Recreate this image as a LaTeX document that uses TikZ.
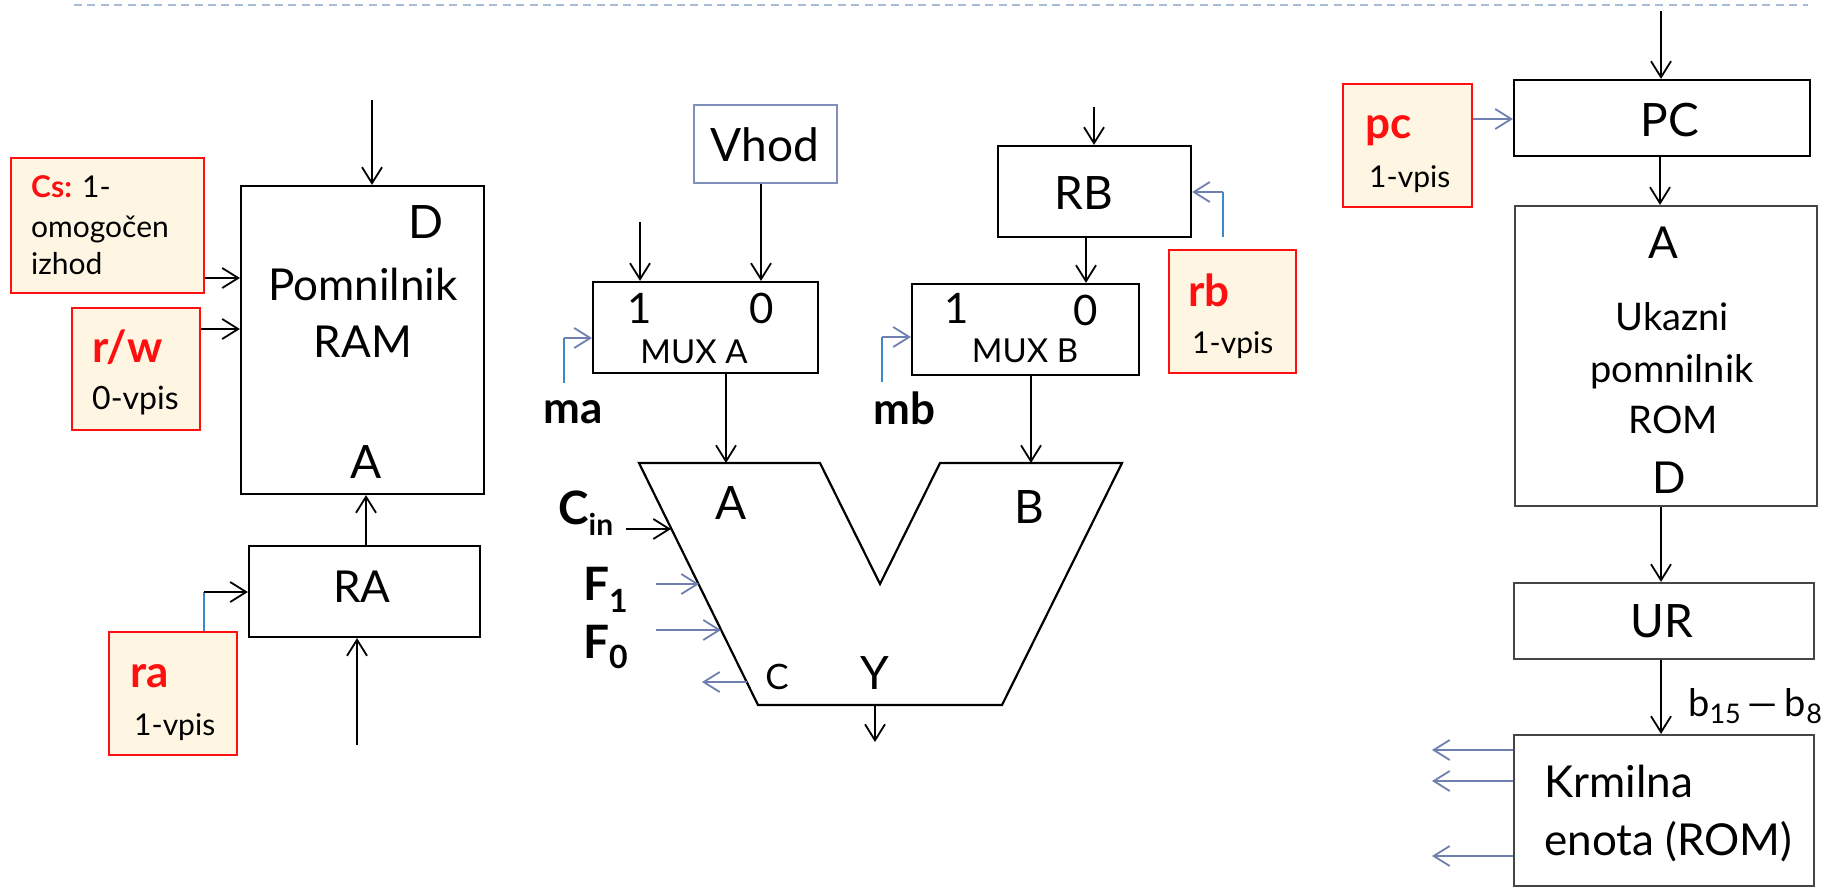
\documentclass[tikz,border=0pt]{standalone}
\usepackage{fontspec}
\setmainfont{Lato}
\usetikzlibrary{arrows.meta}
\definecolor{redb}{HTML}{FF1010}
\definecolor{cream}{HTML}{FEF6E3}
\definecolor{bluel}{HTML}{3F88CC}
\definecolor{garr}{HTML}{6F7FAF}
\definecolor{vhodc}{HTML}{8090BB}
\definecolor{romc}{HTML}{454545}
\definecolor{dashc}{HTML}{A8BCD4}
\newcommand\fsz[1]{\fontsize{#1}{#1}\selectfont}
\begin{document}
\begin{tikzpicture}[x=1pt,y=-1pt,
  box/.style={draw=black, line width=2.2pt, inner sep=0pt},
  gbox/.style={draw=romc, line width=2.2pt, inner sep=0pt},
  cbox/.style={draw=redb, fill=cream, line width=2pt, inner sep=0pt},
  arr/.style={line width=1.8pt, -{Straight Barb[length=16pt,width=20pt]}},
  garrow/.style={draw=garr, line width=1.8pt, -{Straight Barb[length=16pt,width=20pt]}},
  bline/.style={draw=bluel, line width=1.8pt},
  tc/.style={inner sep=0pt, anchor=base},
  tl/.style={inner sep=0pt, anchor=base west},
  redl/.style={text=redb, font=\bfseries\fsz{44}}]
\useasboundingbox (0,0) rectangle (1835,888);
% dashed top line
\coordinate (d0) at (74,5);
\coordinate (d1) at (1808,5);
\draw[dashc, line width=2pt, dash pattern=on 8pt off 5.4pt] (d0) -- (d1);

% ---------- RAM part ----------
\node[box, minimum width=243pt, minimum height=308pt] (ram) at (362.5,340) {};
\node[box, minimum width=231pt, minimum height=91pt] (ra) at (364.5,591.5) {};
\node[cbox, minimum width=193pt, minimum height=135pt] (cs) at (107.5,225.5) {};
\node[cbox, minimum width=128pt, minimum height=122pt] (rw) at (136,369) {};
\node[cbox, minimum width=128pt, minimum height=123pt] (rab) at (173,693.5) {};

\node[tc, font=\fsz{46}] (ramD) at (426,238) {D};
\node[tc, font=\fsz{44}] (ramt1) at (363,300) {Pomnilnik};
\node[tc, font=\fsz{44}] (ramt2) at (363,357) {RAM};
\node[tc, font=\fsz{46}] (ramA) at (366,478) {A};
\node[tc, font=\fsz{44}] (rat) at (362,602) {RA};

\node[tl, font=\fsz{30}] (cs1) at (31,197) {\textcolor{redb}{\bfseries Cs:} 1-};
\node[tl, font=\fsz{30}] (cs2) at (31,237) {omogočen};
\node[tl, font=\fsz{30}] (cs3) at (31,274) {izhod};
\node[tl, redl] (rw1) at (92,362) {r/w};
\node[tl, font=\fsz{32}] (rw2) at (92,409) {0-vpis};
\node[tl, redl] (ra1) at (130,687) {ra};
\node[tl, font=\fsz{30}] (ra2) at (134,735) {1-vpis};

\coordinate (ramtop) at (372,100);
\draw[arr] (ramtop) -- (ramtop |- ram.north);
\draw[arr] (cs.east |- 0,278) -- (ram.west |- 0,278);
\draw[arr] (rw.east |- 0,329) -- (ram.west |- 0,329);
\draw[arr] (ra.north -| 366,0) -- (ram.south -| 366,0);
\coordinate (rabot) at (357,745);
\draw[arr] (rabot) -- (rabot |- ra.south);
\coordinate (rak) at (204,592);
\draw[bline] (rak |- rab.north) -- (rak);
\draw[arr] (rak) -- (rak -| ra.west);

% ---------- MUX / ALU part ----------
\node[draw=vhodc, line width=2pt, inner sep=0pt, minimum width=143pt, minimum height=78pt] (vhod) at (765.5,144) {};
\node[tc, font=\fsz{46}] (vhodt) at (765,161) {Vhod};
\node[box, minimum width=225pt, minimum height=91pt] (muxa) at (705.5,327.5) {};
\node[box, minimum width=193pt, minimum height=91pt] (rb) at (1094.5,191.5) {};
\node[box, minimum width=227pt, minimum height=91pt] (muxb) at (1025.5,329.5) {};
\node[cbox, minimum width=127pt, minimum height=123pt] (rbb) at (1232.5,311.5) {};

\node[tc, font=\fsz{42}] (ma1) at (640,323) {1};
\node[tc, font=\fsz{42}] (ma0) at (762,323) {0};
\node[tc, font=\fsz{33}] (mat) at (694,363) {MUX A};
\node[tc, font=\fsz{42}] (mb1) at (957,323) {1};
\node[tc, font=\fsz{42}] (mb0) at (1086,325) {0};
\node[tc, font=\fsz{33}] (mbt) at (1025,362) {MUX B};
\node[tc, font=\fsz{46}] (rbt) at (1084,209) {RB};
\node[tl, font=\bfseries\fsz{44}] (malab) at (543,423) {ma};
\node[tl, font=\bfseries\fsz{44}] (mblab) at (873,424) {mb};
\node[tl, redl] (rb1) at (1188,306) {rb};
\node[tl, font=\fsz{30}] (rb2) at (1192,353) {1-vpis};

\draw[arr] (vhod.south -| 761,0) -- (muxa.north -| 761,0);
\coordinate (mai) at (640,222);
\draw[arr] (mai) -- (mai |- muxa.north);
\coordinate (mak0) at (564,383);
\coordinate (mak) at (564,338);
\draw[bline] (mak0) -- (mak);
\draw[garrow] (mak) -- (mak -| muxa.west);
\coordinate (rbtop) at (1094,107);
\draw[arr] (rbtop) -- (rbtop |- rb.north);
\draw[arr] (rb.south -| 1086,0) -- (muxb.north -| 1086,0);
\coordinate (rbk0) at (1223,237);
\coordinate (rbk) at (1223,192);
\draw[bline] (rbk0) -- (rbk);
\draw[garrow] (rbk) -- (rbk -| rb.east);
\coordinate (mbk0) at (882,382);
\coordinate (mbk) at (882,337);
\draw[bline] (mbk0) -- (mbk);
\draw[garrow] (mbk) -- (mbk -| muxb.west);

% ALU
\coordinate (alu1) at (639,463);
\coordinate (alu2) at (820,463);
\coordinate (alu3) at (880,584);
\coordinate (alu4) at (940,463);
\coordinate (alu5) at (1122,463);
\coordinate (alu6) at (1002,705);
\coordinate (alu7) at (758,705);
\draw[line width=2.2pt, line join=miter] (alu1) -- (alu2) -- (alu3) -- (alu4) -- (alu5) -- (alu6) -- (alu7) -- cycle;
\coordinate (aluA) at (726,463);
\coordinate (aluB) at (1031,463);
\draw[arr] (muxa.south -| aluA) -- (aluA);
\draw[arr] (muxb.south -| aluB) -- (aluB);
\coordinate (aluY) at (875,705);
\coordinate (aluYo) at (875,742);
\draw[arr] (aluY) -- (aluYo);
\node[tc, font=\fsz{46}] (aluAt) at (731,519) {A};
\node[tc, font=\fsz{46}] (aluBt) at (1029,523) {B};
\node[tc, font=\fsz{35}] (aluCt) at (777,689) {C};
\node[tc, font=\fsz{46}] (aluYt) at (875,689) {Y};

\node[tl, font=\bfseries\fsz{46}] (cin) at (558,524) {C\raisebox{-11pt}{\fsz{30}in}};
\node[tl, font=\bfseries\fsz{46}] (f1) at (583,600) {F\raisebox{-12pt}{\fsz{32}1}};
\node[tl, font=\bfseries\fsz{46}] (f0) at (583,658) {F\raisebox{-10pt}{\fsz{32}0}};
\coordinate (cin0) at (626,529);
\coordinate (cin1) at (671,529);
\draw[arr] (cin0) -- (cin1);
\coordinate (f10) at (656,584);
\coordinate (f11) at (699,584);
\draw[garrow] (f10) -- (f11);
\coordinate (f00) at (656,630);
\coordinate (f01) at (721,630);
\draw[garrow] (f00) -- (f01);
\coordinate (c0) at (747,682);
\coordinate (c1) at (702,682);
\draw[garrow] (c0) -- (c1);

% ---------- right part ----------
\node[box, minimum width=296pt, minimum height=76pt] (pc) at (1662,118) {};
\node[cbox, minimum width=129pt, minimum height=123pt] (pcb) at (1407.5,145.5) {};
\node[gbox, minimum width=302pt, minimum height=300pt] (rom) at (1666,356) {};
\node[gbox, minimum width=300pt, minimum height=76pt] (ur) at (1664,621) {};
\node[gbox, minimum width=300pt, minimum height=151pt] (krm) at (1664,810.5) {};

\node[tc, font=\fsz{46}] (pct) at (1670,136) {PC};
\node[tl, redl] (pc1) at (1365,139) {pc};
\node[tl, font=\fsz{30}] (pc2) at (1369,187) {1-vpis};
\node[tc, font=\fsz{44}] (romA) at (1663,258) {A};
\node[tc, font=\fsz{38}] (rom1) at (1672,330) {Ukazni};
\node[tc, font=\fsz{38}] (rom2) at (1672,382) {pomnilnik};
\node[tc, font=\fsz{38}] (rom3) at (1673,433) {ROM};
\node[tc, font=\fsz{44}] (romD) at (1669,493) {D};
\node[tc, font=\fsz{46}] (urt) at (1662,637) {UR};
\node[tl, font=\fsz{38}] (bits) at (1688,716) {b\raisebox{-7pt}{\fsz{27}15}\hspace{7pt}\textemdash\hspace{7pt}b\raisebox{-7pt}{\fsz{27}8}};
\node[tl, font=\fsz{44}] (krm1) at (1544,797) {Krmilna};
\node[tl, font=\fsz{44}] (krm2) at (1544,855) {enota (ROM)};

\coordinate (pctop) at (1661,11);
\draw[arr] (pctop) -- (pctop |- pc.north);
\draw[garrow] (pcb.east |- 0,119) -- (pc.west |- 0,119);
\draw[arr] (pc.south -| 1660,0) -- (rom.north -| 1660,0);
\draw[arr] (rom.south -| 1661,0) -- (ur.north -| 1661,0);
\draw[arr] (ur.south -| 1661,0) -- (krm.north -| 1661,0);
\coordinate (k1) at (1432,750);
\coordinate (k2) at (1432,781);
\coordinate (k3) at (1432,856);
\draw[garrow] (krm.west |- k1) -- (k1);
\draw[garrow] (krm.west |- k2) -- (k2);
\draw[garrow] (krm.west |- k3) -- (k3);
\end{tikzpicture}
\end{document}
